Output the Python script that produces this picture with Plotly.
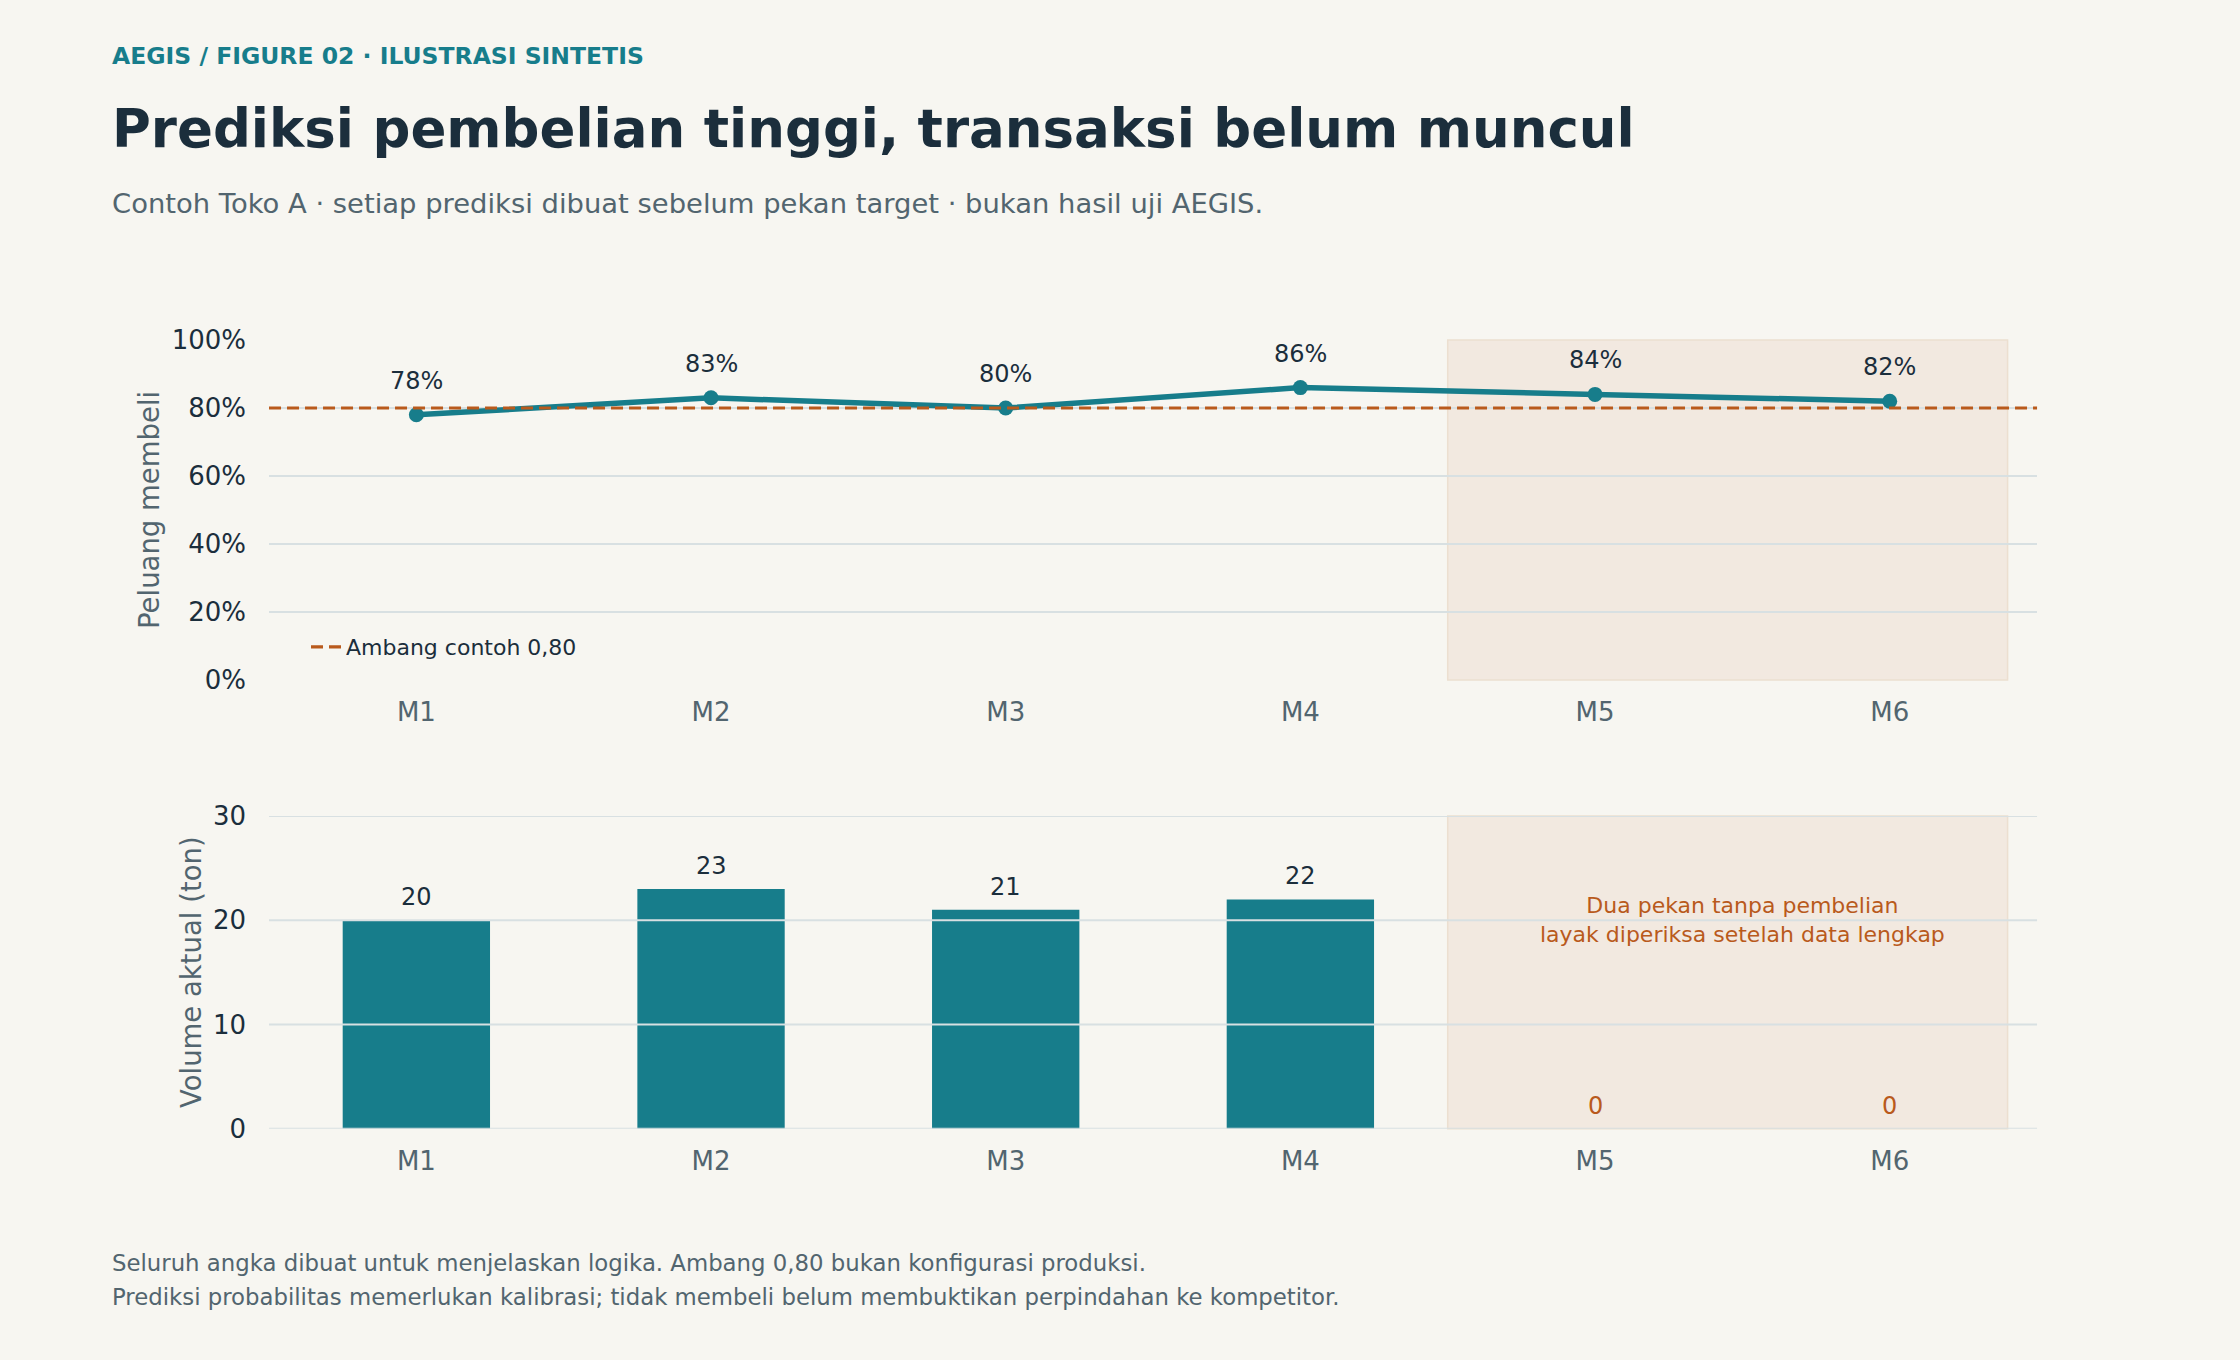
import plotly.graph_objects as go
from plotly.subplots import make_subplots

# data
months = ["M1", "M2", "M3", "M4", "M5", "M6"]
prob_buy = [0.78, 0.83, 0.80, 0.86, 0.84, 0.82]
volume_ton = [20, 23, 21, 22, 0, 0]
threshold = 0.80
prob_ticks = [0, 0.2, 0.4, 0.6, 0.8, 1.0]
vol_ticks = [0, 10, 20, 30]
no_buy_span = [3.5, 5.4]   # pekan tanpa pembelian (M5-M6)

# warna
BG = "#f7f6f1"
TEAL = "#177d8b"
ORANGE = "#b95a1c"
DARK = "#1b2e3c"
GRAY = "#52656f"
GRID = "#d8e0e2"
SHADE = "#f2e9e0"
FONT = "DejaVu Sans"
THR_DASH = "12px,6px"

x = list(range(len(months)))

fig = make_subplots(rows=2, cols=1)

fig.add_trace(go.Scatter(
    x=x, y=prob_buy, mode="lines+markers",
    line=dict(color=TEAL, width=5.5),
    marker=dict(color=TEAL, size=15),
    showlegend=False, hoverinfo="skip",
), row=1, col=1)

# entri legenda untuk ambang (garisnya digambar dengan hline)
fig.add_trace(go.Scatter(
    x=[None], y=[None], mode="lines", name="Ambang contoh 0,80",
    line=dict(color=ORANGE, width=3.2, dash=THR_DASH),
), row=1, col=1)

bar_colors = [TEAL] * len(volume_ton)
fig.add_trace(go.Bar(
    x=x, y=volume_ton, width=0.5, marker=dict(color=bar_colors, line=dict(width=0)),
    showlegend=False, hoverinfo="skip",
), row=2, col=1)

# area tanpa pembelian
for r in (1, 2):
    fig.add_vrect(x0=no_buy_span[0], x1=no_buy_span[1], fillcolor=SHADE, opacity=1,
                  line=dict(color="#ecdfd0", width=1.5), layer="below", row=r, col=1)

# garis grid di atas batang
for v in vol_ticks:
    fig.add_hline(y=v, line=dict(color=GRID, width=2), layer="above", row=2, col=1)

# ambang
fig.add_hline(y=threshold, line=dict(color=ORANGE, width=3.2, dash=THR_DASH), layer="above",
              row=1, col=1)

# label nilai
for xi, p in zip(x, prob_buy):
    fig.add_annotation(x=xi, y=p, xref="x", yref="y", text=f"{p * 100:.0f}%",
                       showarrow=False, yshift=34, yanchor="middle",
                       font=dict(family=FONT, size=24, color=DARK))
for xi, v in zip(x, volume_ton):
    fig.add_annotation(x=xi, y=v, xref="x2", yref="y2", text=f"{v}",
                       showarrow=False, yshift=23, yanchor="middle",
                       font=dict(family=FONT, size=24, color=DARK if v > 0 else ORANGE))

fig.add_annotation(x=no_buy_span[0] + 1.0, y=20, xref="x2", yref="y2",
                   text="Dua pekan tanpa pembelian<br>layak diperiksa setelah data lengkap",
                   showarrow=False, align="center", yanchor="middle",
                   font=dict(family=FONT, size=22, color=ORANGE))

# teks judul dan catatan
W, H = 2240, 1360


def add_text(px, py, text, size, color, bold=False, angle=0, xanchor="left"):
    fig.add_annotation(x=px / W, y=1 - py / H, xref="paper", yref="paper",
                       text=f"<b>{text}</b>" if bold else text, showarrow=False,
                       xanchor=xanchor, yanchor="middle", textangle=angle,
                       font=dict(family=FONT, size=size, color=color))


add_text(110, 56, "AEGIS / FIGURE 02 · ILUSTRASI SINTETIS", 23.5, TEAL, bold=True)
add_text(110, 128, "Prediksi pembelian tinggi, transaksi belum muncul", 53, DARK, bold=True)
add_text(110, 203, "Contoh Toko A · setiap prediksi dibuat sebelum pekan target · bukan hasil uji AEGIS.", 27.4, GRAY)
add_text(110, 1263, "Seluruh angka dibuat untuk menjelaskan logika. Ambang 0,80 bukan konfigurasi produksi.", 22.8, GRAY)
add_text(110, 1297, "Prediksi probabilitas memerlukan kalibrasi; tidak membeli belum membuktikan perpindahan ke kompetitor.", 22.8, GRAY)
add_text(149, 510, "Peluang membeli", 27.5, GRAY, angle=-90, xanchor="center")
add_text(191, 972, "Volume aktual (ton)", 27.5, GRAY, angle=-90, xanchor="center")

xaxis_common = dict(range=[-0.5, 5.5], tickvals=x, ticktext=months, showgrid=False,
                    zeroline=False, showline=False, ticks="", automargin=False,
                    ticklabelstandoff=14,
                    tickfont=dict(family=FONT, size=26, color=GRAY))
fig.update_layout(
    width=W, height=H,
    paper_bgcolor=BG, plot_bgcolor=BG,
    margin=dict(l=0, r=0, t=0, b=0),
    font=dict(family=FONT, color=DARK),
    xaxis=dict(domain=[0.1201, 0.9094], **xaxis_common),
    xaxis2=dict(domain=[0.1201, 0.9094], **xaxis_common),
    yaxis=dict(domain=[0.5, 0.75], range=[0, 1.0], tickvals=prob_ticks, tickformat=".0%",
               showgrid=True, gridcolor=GRID, gridwidth=2, zeroline=False, ticks="",
               automargin=False, ticklabelstandoff=22,
               tickfont=dict(family=FONT, size=26, color=DARK)),
    yaxis2=dict(domain=[0.17, 0.40], range=[0, 30], tickvals=vol_ticks,
                showgrid=False, zeroline=False, ticks="",
                automargin=False, ticklabelstandoff=22,
                tickfont=dict(family=FONT, size=26, color=DARK)),
    legend=dict(x=306 / W, y=1 - 647 / H, xanchor="left", yanchor="middle",
                bgcolor="rgba(0,0,0,0)", font=dict(family=FONT, size=22, color=DARK)),
    bargap=0.5,
)

fig.write_html("out.html", config={"displayModeBar": False},
               post_script="document.body.style.margin='0px';")
